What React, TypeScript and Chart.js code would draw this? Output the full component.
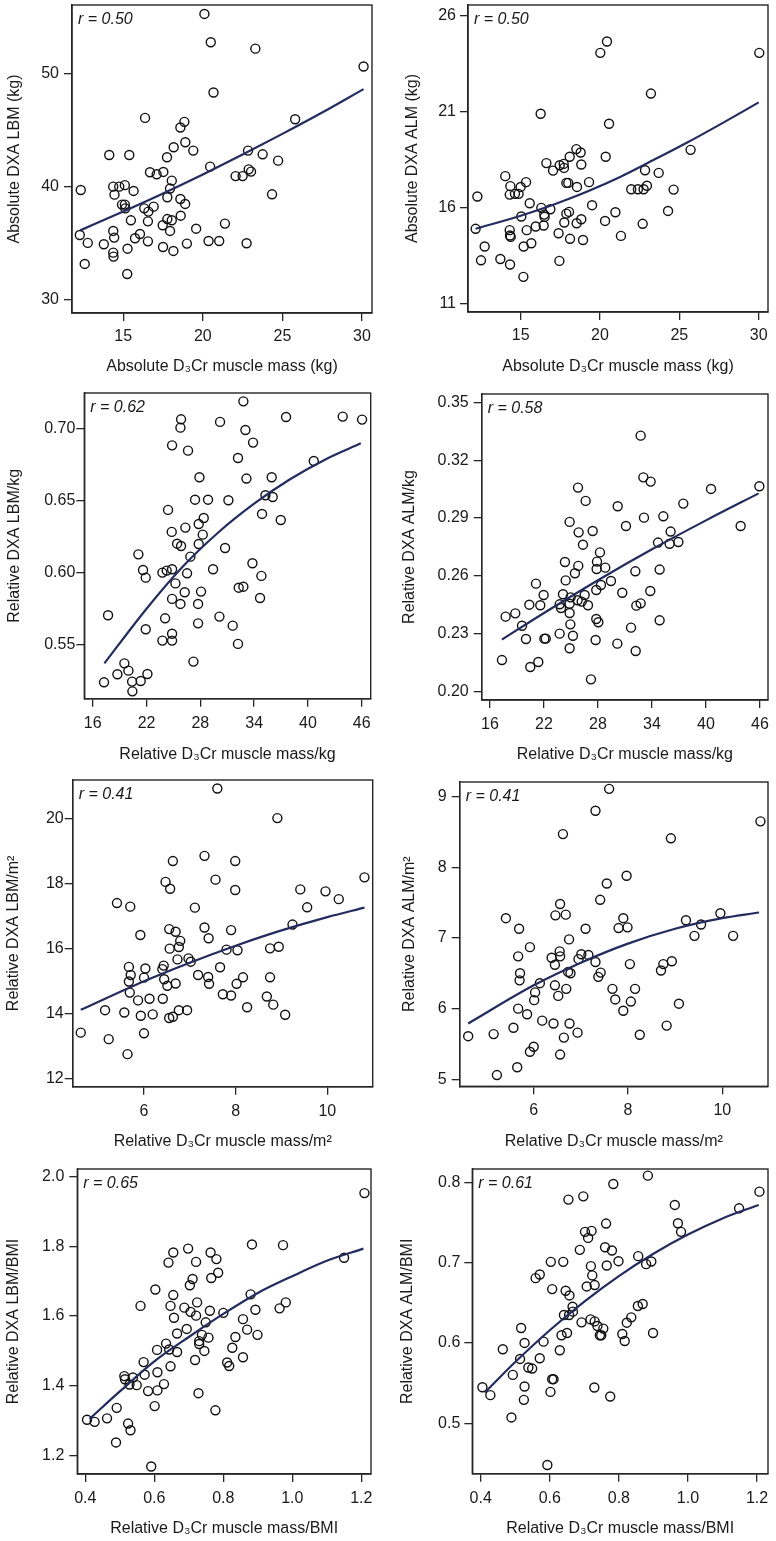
import React, { useEffect, useRef } from 'react';
import Chart from 'chart.js/auto';

// ---------- DATA ----------
const absLbmPts = [[20.1,55.25],[20.5,52.74],[23.3,52.18],[30.1,50.6],[20.67,48.3],[16.37,46.05],[25.8,45.93],[18.84,45.7],[18.59,45.2],[18.9,43.9],[18.17,43.45],[19.4,43.16],[22.84,43.16],[14.12,42.77],[15.38,42.77],[17.75,42.57],[23.76,42.83],[24.73,42.27],[20.46,41.74],[16.68,41.24],[17.1,41.06],[17.52,41.27],[22.88,41.5],[23.03,41.3],[22.06,40.9],[22.5,40.9],[18.05,40.5],[17.94,39.8],[14.37,39.97],[14.75,39.97],[15.1,40.1],[12.33,39.67],[15.65,39.59],[14.45,39.26],[24.35,39.29],[17.77,39.03],[18.59,38.88],[14.92,38.38],[15.1,38.38],[18.89,38.44],[15.13,38.05],[16.32,38.05],[16.91,38.2],[16.58,37.76],[18.61,37.4],[17.77,37.1],[18.05,37.0],[15.48,36.99],[16.55,36.9],[17.48,36.55],[21.39,36.7],[19.58,36.25],[14.37,36.05],[17.94,36.05],[12.27,35.69],[16.05,35.78],[15.74,35.4],[14.43,35.46],[12.77,34.99],[13.78,34.87],[16.55,35.13],[20.36,35.16],[21.03,35.16],[19.0,34.93],[22.75,34.96],[17.5,34.63],[15.27,34.48],[14.37,34.13],[14.39,33.78],[18.15,34.28],[12.58,33.13],[15.25,32.24]];
const absAlmPts = [[20.02,24.07],[20.44,24.66],[30.04,24.07],[23.21,21.95],[16.26,20.9],[20.57,20.38],[25.71,19.02],[18.51,19.06],[18.78,18.88],[18.09,18.66],[20.36,18.66],[16.62,18.33],[17.46,18.22],[17.71,18.29],[18.82,18.26],[14.03,17.65],[17.04,17.94],[17.73,18.08],[22.84,17.96],[23.7,17.82],[15.34,17.34],[14.35,17.13],[15.0,17.09],[17.88,17.3],[18.0,17.3],[18.55,17.09],[19.31,17.34],[21.97,16.97],[22.39,16.97],[22.75,16.97],[22.96,17.15],[24.64,16.95],[14.31,16.69],[14.64,16.73],[14.87,16.73],[12.27,16.59],[15.57,16.24],[19.5,16.14],[16.3,16.0],[16.87,15.93],[20.97,15.77],[24.29,15.84],[15.04,15.55],[16.49,15.65],[16.51,15.53],[18.05,15.79],[17.88,15.7],[18.82,15.41],[20.32,15.32],[18.53,15.2],[17.75,15.24],[16.45,15.08],[22.69,15.17],[12.16,14.91],[15.95,15.03],[15.38,14.84],[14.31,14.84],[14.33,14.56],[14.37,14.49],[17.39,14.68],[21.32,14.54],[18.11,14.39],[18.93,14.33],[12.73,13.99],[15.19,13.99],[15.67,14.16],[12.5,13.27],[13.72,13.34],[17.44,13.24],[14.33,13.05],[15.17,12.41]];
const relLbmKgPts = [[32.8,0.7192],[25.85,0.7067],[25.78,0.7009],[30.2,0.7049],[37.56,0.7083],[43.88,0.7086],[46.04,0.7065],[33.03,0.6993],[24.85,0.6886],[33.88,0.6905],[26.63,0.6849],[32.2,0.6798],[40.65,0.6777],[27.9,0.6664],[33.14,0.6655],[35.96,0.6664],[27.41,0.6508],[28.86,0.6508],[31.13,0.6504],[35.26,0.6539],[36.07,0.6527],[24.4,0.6437],[34.88,0.6409],[36.97,0.6367],[28.38,0.6381],[27.82,0.6339],[26.33,0.6314],[24.81,0.6284],[28.27,0.6265],[25.41,0.6202],[25.85,0.6186],[27.82,0.62],[30.76,0.6172],[21.09,0.6128],[26.89,0.6112],[21.61,0.6019],[21.91,0.5966],[23.77,0.6001],[24.25,0.6015],[24.85,0.6024],[26.52,0.5996],[29.42,0.6024],[33.81,0.6066],[34.81,0.5978],[25.22,0.5926],[26.26,0.5864],[28.08,0.5869],[32.28,0.5896],[32.8,0.5903],[24.85,0.5818],[25.78,0.5783],[27.75,0.5783],[34.66,0.5824],[17.71,0.5704],[30.13,0.5695],[24.07,0.5683],[27.75,0.5648],[31.61,0.5632],[21.91,0.5607],[24.85,0.5576],[23.77,0.5528],[24.85,0.5528],[32.2,0.5505],[27.23,0.5382],[19.53,0.537],[19.98,0.5319],[18.75,0.5294],[22.1,0.5296],[17.26,0.5238],[20.39,0.5243],[21.35,0.5247],[20.42,0.5175]];
const relAlmKgPts = [[32.74,0.3327],[33.04,0.3111],[33.85,0.3089],[25.78,0.3058],[40.56,0.3051],[45.93,0.3065],[26.63,0.2989],[37.48,0.2975],[30.19,0.2961],[24.85,0.288],[33.11,0.2902],[35.26,0.2909],[31.11,0.2859],[43.85,0.2859],[25.85,0.2826],[27.41,0.2833],[36.07,0.283],[26.33,0.2762],[34.67,0.2773],[35.96,0.2767],[36.93,0.2776],[28.22,0.2722],[24.33,0.2672],[27.89,0.2674],[25.81,0.2652],[27.85,0.2636],[28.81,0.2643],[32.15,0.2624],[34.85,0.2633],[25.44,0.2614],[21.11,0.256],[24.41,0.2577],[29.44,0.2574],[28.33,0.2553],[27.81,0.2527],[30.7,0.2513],[33.81,0.2522],[21.96,0.2501],[24.11,0.2505],[24.96,0.2489],[26.52,0.2501],[25.74,0.2474],[26.19,0.2467],[20.37,0.2451],[21.59,0.2448],[23.74,0.2453],[24.85,0.2456],[26.89,0.2448],[32.26,0.2446],[32.74,0.2458],[23.89,0.2434],[18.81,0.2406],[17.74,0.2389],[24.85,0.2408],[27.81,0.2377],[28.04,0.236],[34.85,0.237],[19.56,0.2342],[24.93,0.2349],[31.67,0.2332],[23.74,0.2301],[25.22,0.229],[20.0,0.2273],[22.04,0.2275],[22.2,0.2275],[27.74,0.2268],[30.15,0.2249],[24.85,0.2225],[32.19,0.2211],[17.33,0.2164],[21.37,0.2154],[20.48,0.2128],[27.22,0.2064]];
const relLbmM2Pts = [[7.6,20.92],[8.91,20.01],[7.32,18.85],[6.63,18.69],[7.99,18.69],[10.81,18.19],[7.56,18.12],[6.47,18.05],[6.57,17.84],[7.99,17.8],[9.41,17.82],[9.96,17.76],[10.25,17.52],[5.41,17.4],[5.7,17.29],[7.11,17.26],[9.56,17.27],[9.24,16.74],[7.32,16.65],[6.55,16.6],[6.69,16.52],[7.9,16.57],[5.92,16.42],[7.41,16.32],[6.79,16.24],[6.76,16.05],[6.56,16.0],[8.75,16.01],[8.94,16.06],[7.8,15.97],[8.04,15.95],[6.73,15.67],[6.97,15.7],[7.02,15.6],[5.67,15.44],[6.03,15.39],[6.43,15.48],[6.4,15.37],[7.66,15.43],[5.71,15.19],[6.0,15.11],[7.18,15.19],[7.4,15.13],[8.16,15.12],[8.75,15.12],[5.67,14.99],[6.44,15.06],[6.69,14.93],[6.51,14.86],[7.42,14.92],[8.02,14.92],[5.69,14.65],[7.72,14.6],[7.9,14.56],[8.68,14.53],[5.87,14.41],[6.12,14.46],[6.41,14.46],[8.82,14.28],[8.25,14.2],[5.15,14.11],[5.57,14.04],[5.93,13.94],[6.19,13.98],[6.76,14.11],[6.94,14.11],[6.55,13.87],[6.63,13.91],[9.08,13.97],[4.62,13.42],[6.0,13.4],[5.23,13.22],[5.64,12.76]];
const relAlmM2Pts = [[7.6,9.11],[7.31,8.8],[10.81,8.65],[6.62,8.47],[8.91,8.41],[7.97,7.88],[7.55,7.77],[7.41,7.54],[6.56,7.48],[6.46,7.32],[6.68,7.33],[9.96,7.35],[5.41,7.28],[7.9,7.28],[9.23,7.25],[5.69,7.13],[7.1,7.13],[7.8,7.14],[7.99,7.15],[9.55,7.19],[9.41,7.03],[10.23,7.03],[6.75,6.98],[5.92,6.87],[6.55,6.81],[7.01,6.77],[7.16,6.76],[6.38,6.72],[6.56,6.74],[5.67,6.74],[6.95,6.7],[7.31,6.66],[6.45,6.62],[8.04,6.63],[8.75,6.63],[8.93,6.67],[8.7,6.54],[5.71,6.5],[5.7,6.4],[6.73,6.52],[6.78,6.5],[7.42,6.51],[7.37,6.45],[6.13,6.36],[6.45,6.33],[6.69,6.28],[7.67,6.28],[8.15,6.28],[6.03,6.23],[6.52,6.18],[7.73,6.13],[6.01,6.12],[8.06,6.1],[9.08,6.07],[5.67,6.0],[7.9,5.97],[5.86,5.92],[6.18,5.83],[6.42,5.79],[6.76,5.79],[5.57,5.73],[8.82,5.76],[6.93,5.66],[4.61,5.61],[5.15,5.64],[8.25,5.63],[6.64,5.59],[6.0,5.46],[5.92,5.39],[6.56,5.35],[5.65,5.17],[5.22,5.06]];
const relLbmBmiPts = [[1.209,1.952],[0.883,1.805],[0.973,1.803],[0.698,1.793],[0.655,1.782],[0.763,1.782],[0.641,1.753],[0.721,1.755],[0.78,1.763],[1.15,1.767],[0.785,1.724],[0.711,1.706],[0.765,1.709],[0.703,1.688],[0.603,1.676],[0.655,1.66],[0.879,1.662],[0.56,1.629],[0.647,1.629],[0.687,1.624],[0.724,1.639],[0.981,1.639],[0.963,1.622],[0.705,1.612],[0.761,1.615],[0.8,1.609],[0.893,1.618],[0.657,1.595],[0.721,1.601],[0.857,1.591],[0.749,1.582],[0.694,1.563],[0.869,1.561],[0.666,1.55],[0.899,1.546],[0.738,1.546],[0.835,1.54],[0.757,1.538],[0.634,1.521],[0.73,1.528],[0.73,1.52],[0.643,1.504],[0.608,1.503],[0.826,1.509],[0.666,1.497],[0.745,1.5],[0.569,1.468],[0.811,1.467],[0.817,1.457],[0.647,1.456],[0.857,1.482],[0.718,1.474],[0.609,1.439],[0.572,1.432],[0.513,1.428],[0.515,1.419],[0.538,1.424],[0.528,1.404],[0.549,1.402],[0.628,1.405],[0.582,1.385],[0.609,1.387],[0.728,1.379],[0.601,1.342],[0.491,1.337],[0.405,1.303],[0.427,1.297],[0.463,1.307],[0.777,1.33],[0.524,1.292],[0.531,1.273],[0.489,1.238],[0.591,1.169]];
const relAlmBmiPts = [[0.884,0.8083],[0.784,0.7979],[0.697,0.7826],[0.654,0.7785],[1.207,0.7884],[0.962,0.7719],[1.148,0.7677],[0.971,0.7491],[0.763,0.7487],[0.98,0.7384],[0.702,0.7384],[0.721,0.7396],[0.711,0.7309],[0.76,0.7193],[0.78,0.7152],[0.687,0.716],[0.856,0.7082],[0.603,0.7011],[0.639,0.7011],[0.799,0.7019],[0.894,0.7015],[0.879,0.6982],[0.719,0.6957],[0.765,0.6966],[0.571,0.6854],[0.559,0.6808],[0.723,0.6842],[0.707,0.6705],[0.73,0.6722],[0.607,0.6672],[0.646,0.6651],[0.657,0.6593],[0.666,0.6453],[0.667,0.6391],[0.641,0.6349],[0.656,0.6349],[0.855,0.6461],[0.869,0.6486],[0.836,0.632],[0.692,0.6258],[0.718,0.6295],[0.73,0.627],[0.823,0.6254],[0.738,0.6213],[0.755,0.618],[0.745,0.6097],[0.749,0.6097],[0.634,0.6097],[0.65,0.6126],[0.81,0.6113],[0.899,0.6126],[0.817,0.6026],[0.517,0.6188],[0.527,0.6002],[0.582,0.6018],[0.464,0.5923],[0.629,0.5911],[0.514,0.5803],[0.571,0.5811],[0.538,0.5696],[0.549,0.5683],[0.493,0.5604],[0.607,0.5551],[0.611,0.5551],[0.527,0.546],[0.729,0.5447],[0.405,0.5451],[0.428,0.5352],[0.775,0.5336],[0.602,0.5393],[0.525,0.5294],[0.489,0.5075],[0.593,0.4483]];

// fitted curves
const absLbmFit = [[12.3,36.1],[15,37.77],[17.5,39.37],[20,41.05],[22.5,42.81],[25,44.64],[27.5,46.53],[30.1,48.6]];
const absAlmFit = [[12.16,14.91],[15,15.59],[17.1,16.18],[19.2,16.85],[21.3,17.62],[23.4,18.5],[25.5,19.4],[27.8,20.45],[30.0,21.49]];
const relLbmKgFit = [[17.3,0.537],[22,0.575],[26,0.604],[30,0.628],[34,0.648],[38,0.665],[42,0.679],[45.9,0.69]];
const relAlmKgFit = [[17.33,0.227],[22,0.2408],[28,0.2578],[34,0.2738],[40,0.2888],[45.85,0.3028]];
const relLbmM2Fit = [[4.62,14.12],[6,15.0],[7,15.57],[8,16.09],[9,16.56],[10,16.97],[10.81,17.26]];
const relAlmM2Fit = [[4.61,5.79],[6,6.33],[7,6.65],[8,6.92],[9,7.13],[10,7.28],[10.78,7.36]];
const relLbmBmiFit = [[0.412,1.305],[0.5,1.384],[0.6,1.47],[0.7,1.54],[0.8,1.606],[0.9,1.666],[1.0,1.714],[1.1,1.758],[1.206,1.793]];
const relAlmBmiFit = [[0.412,0.5385],[0.5,0.5764],[0.6,0.616],[0.7,0.6516],[0.8,0.6833],[0.9,0.7111],[1.0,0.735],[1.1,0.7551],[1.205,0.7719]];

// tick values and labels
const absXTicks = [15, 20, 25, 30];
const absXLabels = ['15', '20', '25', '30'];
const absLbmYTicks = [30, 40, 50];
const absLbmYLabels = ['30', '40', '50'];
const absAlmYTicks = [11, 16, 21, 26];
const absAlmYLabels = ['11', '16', '21', '26'];
const kgXTicks = [16, 22, 28, 34, 40, 46];
const kgXLabels = ['16', '22', '28', '34', '40', '46'];
const lbmKgYTicks = [0.55, 0.6, 0.65, 0.7];
const lbmKgYLabels = ['0.55', '0.60', '0.65', '0.70'];
const almKgYTicks = [0.2, 0.23, 0.26, 0.29, 0.32, 0.35];
const almKgYLabels = ['0.20', '0.23', '0.26', '0.29', '0.32', '0.35'];
const m2XTicks = [6, 8, 10];
const m2XLabels = ['6', '8', '10'];
const lbmM2YTicks = [12, 14, 16, 18, 20];
const lbmM2YLabels = ['12', '14', '16', '18', '20'];
const almM2YTicks = [5, 6, 7, 8, 9];
const almM2YLabels = ['5', '6', '7', '8', '9'];
const bmiXTicks = [0.4, 0.6, 0.8, 1.0, 1.2];
const bmiXLabels = ['0.4', '0.6', '0.8', '1.0', '1.2'];
const lbmBmiYTicks = [1.2, 1.4, 1.6, 1.8, 2.0];
const lbmBmiYLabels = ['1.2', '1.4', '1.6', '1.8', '2.0'];
const almBmiYTicks = [0.5, 0.6, 0.7, 0.8];
const almBmiYLabels = ['0.5', '0.6', '0.7', '0.8'];

const rValues = ['0.50', '0.50', '0.62', '0.58', '0.41', '0.41', '0.65', '0.61'];

// ---------- LAYOUT / STYLE ----------
const FONT = '"Liberation Sans", Arial, Helvetica, sans-serif';
const TEXT = '#1a1a1a';
const AXIS = '#262626';
const NAVY = '#232c5e';
const COL_W = 388;
const TOPM = 20;
const TICK_SIZE = 16;
const TITLE_SIZE = 16;

type Spec = {
  x0: number; box: { l: number; t: number; r: number; b: number };
  xMin: number; xMax: number; yMin: number; yMax: number;
  xTicks: number[]; xLabels: string[]; yTicks: number[]; yLabels: string[];
  xTitle: string; yTitle: string; r: string;
  pts: number[][]; fit: number[][];
  yTickPad: number; yTitleX: number; xTickPad: number; xTitleY: number;
};

const specs: Spec[] = [
  { x0: 0, box: { l: 72, t: 5, r: 372, b: 313 }, xMin: 11.78, xMax: 30.63, yMin: 28.79, yMax: 56.04,
    xTicks: absXTicks, xLabels: absXLabels, yTicks: absLbmYTicks, yLabels: absLbmYLabels,
    xTitle: 'Absolute D₃Cr muscle mass (kg)', yTitle: 'Absolute DXA LBM (kg)', r: rValues[0],
    pts: absLbmPts, fit: absLbmFit, yTickPad: 5, yTitleX: 15, xTickPad: 6, xTitleY: 366.5 },
  { x0: 388, box: { l: 468, t: 5, r: 768, b: 312 }, xMin: 11.68, xMax: 30.59, yMin: 10.58, yMax: 26.56,
    xTicks: absXTicks, xLabels: absXLabels, yTicks: absAlmYTicks, yLabels: absAlmYLabels,
    xTitle: 'Absolute D₃Cr muscle mass (kg)', yTitle: 'Absolute DXA ALM (kg)', r: rValues[1],
    pts: absAlmPts, fit: absAlmFit, yTickPad: 4, yTitleX: 413, xTickPad: 6, xTitleY: 366.5 },
  { x0: 0, box: { l: 84.3, t: 393.3, r: 370.7, b: 699 }, xMin: 15.06, xMax: 47.0, yMin: 0.5124, yMax: 0.725,
    xTicks: kgXTicks, xLabels: kgXLabels, yTicks: lbmKgYTicks, yLabels: lbmKgYLabels,
    xTitle: 'Relative D₃Cr muscle mass/kg', yTitle: 'Relative DXA LBM/kg', r: rValues[2],
    pts: relLbmKgPts, fit: relLbmKgFit, yTickPad: 1, yTitleX: 15, xTickPad: 7, xTitleY: 755 },
  { x0: 388, box: { l: 481.7, t: 394, r: 768, b: 700 }, xMin: 15.08, xMax: 46.89, yMin: 0.1957, yMax: 0.3543,
    xTicks: kgXTicks, xLabels: kgXLabels, yTicks: almKgYTicks, yLabels: almKgYLabels,
    xTitle: 'Relative D₃Cr muscle mass/kg', yTitle: 'Relative DXA ALM/kg', r: rValues[3],
    pts: relAlmKgPts, fit: relAlmKgFit, yTickPad: 5, yTitleX: 409.7, xTickPad: 7, xTitleY: 755 },
  { x0: 0, box: { l: 72.7, t: 780, r: 372.7, b: 1086.7 }, xMin: 4.444, xMax: 10.99, yMin: 11.76, yMax: 21.18,
    xTicks: m2XTicks, xLabels: m2XLabels, yTicks: lbmM2YTicks, yLabels: lbmM2YLabels,
    xTitle: 'Relative D₃Cr muscle mass/m²', yTitle: 'Relative DXA LBM/m²', r: rValues[4],
    pts: relLbmM2Pts, fit: relLbmM2Fit, yTickPad: 1, yTitleX: 13.5, xTickPad: 7, xTitleY: 1141.7 },
  { x0: 388, box: { l: 459.7, t: 781.7, r: 768, b: 1086 }, xMin: 4.43, xMax: 10.97, yMin: 4.901, yMax: 9.207,
    xTicks: m2XTicks, xLabels: m2XLabels, yTicks: almM2YTicks, yLabels: almM2YLabels,
    xTitle: 'Relative D₃Cr muscle mass/m²', yTitle: 'Relative DXA ALM/m²', r: rValues[5],
    pts: relAlmM2Pts, fit: relAlmM2Fit, yTickPad: 5, yTitleX: 409.7, xTickPad: 7, xTitleY: 1141.7 },
  { x0: 0, box: { l: 77.3, t: 1169.3, r: 371, b: 1474.3 }, xMin: 0.3768, xMax: 1.228, yMin: 1.1476, yMax: 2.021,
    xTicks: bmiXTicks, xLabels: bmiXLabels, yTicks: lbmBmiYTicks, yLabels: lbmBmiYLabels,
    xTitle: 'Relative D₃Cr muscle mass/BMI', yTitle: 'Relative DXA LBM/BMI', r: rValues[6],
    pts: relLbmBmiPts, fit: relLbmBmiFit, yTickPad: 5, yTitleX: 13.3, xTickPad: 7, xTitleY: 1529 },
  { x0: 388, box: { l: 472.3, t: 1169.3, r: 768, b: 1474 }, xMin: 0.3757, xMax: 1.2318, yMin: 0.4375, yMax: 0.8166,
    xTicks: bmiXTicks, xLabels: bmiXLabels, yTicks: almBmiYTicks, yLabels: almBmiYLabels,
    xTitle: 'Relative D₃Cr muscle mass/BMI', yTitle: 'Relative DXA ALM/BMI', r: rValues[7],
    pts: relAlmBmiPts, fit: relAlmBmiFit, yTickPad: 4, yTitleX: 408, xTickPad: 7, xTitleY: 1529 },
];

Chart.defaults.font.family = FONT;
Chart.defaults.color = TEXT;

function Panel({ s }: { s: Spec }) {
  const ref = useRef<HTMLCanvasElement | null>(null);
  const TITLE_HALF = TITLE_SIZE * 1.2 / 2;
  const xAxisH = s.xTitleY - s.box.b + TITLE_HALF;
  const canvasTop = s.box.t - TOPM;
  const rawH = s.box.b + xAxisH - canvasTop;
  const height = Math.ceil(rawH);
  const padBottom = height - rawH;
  const yAxisW = s.box.l - s.x0;

  useEffect(() => {
    if (!ref.current) return;
    const framePlugin = {
      id: 'frameAndR',
      afterDraw(chart: any) {
        const { ctx, chartArea: a } = chart;
        ctx.save();
        ctx.strokeStyle = AXIS;
        ctx.lineWidth = 1.4;
        ctx.strokeRect(a.left, a.top, a.right - a.left, a.bottom - a.top);
        ctx.font = `italic 16px ${FONT}`;
        ctx.fillStyle = TEXT;
        ctx.textAlign = 'left';
        ctx.textBaseline = 'middle';
        ctx.fillText('r = ' + s.r, a.left + 6, a.top + 14.5);
        ctx.restore();
      },
    };
    const chart = new Chart(ref.current, {
      type: 'scatter',
      data: {
        datasets: [
          {
            data: s.fit.map(([x, y]) => ({ x, y })),
            showLine: true,
            borderColor: NAVY,
            borderWidth: 2.2,
            pointRadius: 0,
            cubicInterpolationMode: 'monotone',
            fill: false,
          } as any,
          {
            data: s.pts.map(([x, y]) => ({ x, y })),
            showLine: false,
            pointRadius: 4.5,
            pointBorderWidth: 1.4,
            pointBorderColor: '#111',
            pointBackgroundColor: 'rgba(0,0,0,0)',
          } as any,
        ],
      },
      options: {
        responsive: false,
        animation: false,
        devicePixelRatio: 1,
        events: [],
        layout: { padding: { left: 0, right: s.x0 + COL_W - s.box.r, top: TOPM, bottom: padBottom } },
        plugins: { legend: { display: false }, tooltip: { enabled: false } },
        scales: {
          x: {
            type: 'linear', position: 'bottom', min: s.xMin, max: s.xMax,
            afterBuildTicks: (sc: any) => { sc.ticks = s.xTicks.map((v) => ({ value: v })); },
            afterFit: (sc: any) => { sc.height = xAxisH; sc.paddingLeft = 0; sc.paddingRight = 0; },
            ticks: {
              autoSkip: false, maxRotation: 0, minRotation: 0, padding: s.xTickPad, color: TEXT,
              font: { size: TICK_SIZE }, callback: (_v: any, i: number) => s.xLabels[i],
            },
            grid: { drawOnChartArea: false, drawTicks: true, tickLength: 8, color: AXIS, lineWidth: 1.3 },
            border: { display: true, color: AXIS, width: 1.4 },
            title: { display: true, text: s.xTitle, font: { size: TITLE_SIZE }, color: TEXT, padding: { top: 0, bottom: 0 } },
          },
          y: {
            type: 'linear', position: 'left', min: s.yMin, max: s.yMax,
            afterBuildTicks: (sc: any) => { sc.ticks = s.yTicks.map((v) => ({ value: v })); },
            afterFit: (sc: any) => { sc.width = yAxisW; sc.paddingTop = 0; sc.paddingBottom = 0; },
            ticks: {
              autoSkip: false, padding: s.yTickPad, color: TEXT,
              font: { size: TICK_SIZE }, callback: (_v: any, i: number) => s.yLabels[i],
            },
            grid: { drawOnChartArea: false, drawTicks: true, tickLength: 8, color: AXIS, lineWidth: 1.3 },
            border: { display: true, color: AXIS, width: 1.4 },
            title: { display: true, text: s.yTitle, font: { size: TITLE_SIZE }, color: TEXT,
              padding: { top: s.yTitleX - s.x0 - TITLE_HALF, bottom: 0 } },
          },
        },
      } as any,
      plugins: [framePlugin],
    });
    return () => chart.destroy();
  }, []);

  return (
    <canvas
      ref={ref}
      width={COL_W}
      height={height}
      style={{ position: 'absolute', left: s.x0, top: canvasTop, width: COL_W, height }}
    />
  );
}

export default function App() {
  return (
    <div style={{ position: 'absolute', left: 0, top: 0, width: 776, height: 1541, background: '#fff', overflow: 'hidden' }}>
      {specs.map((s, i) => <Panel key={i} s={s} />)}
    </div>
  );
}
